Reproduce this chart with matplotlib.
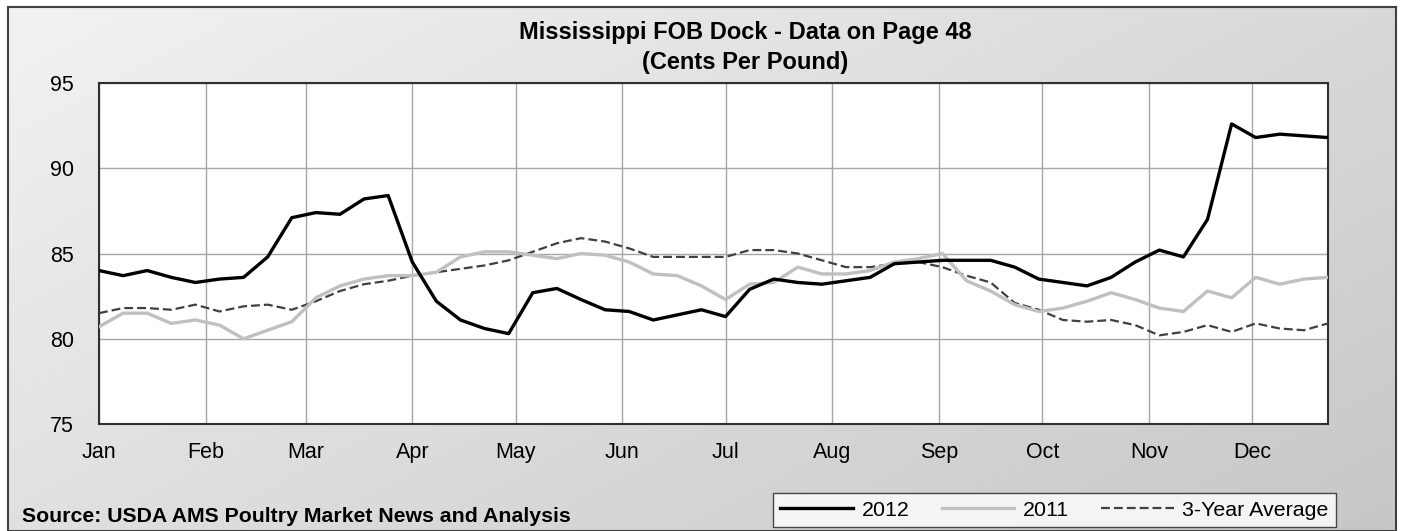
import numpy as np
import pandas as pd
import matplotlib
matplotlib.use('Agg')
import matplotlib.pyplot as plt
from matplotlib.patches import Rectangle

plt.rcParams['font.family'] = ['Liberation Sans', 'DejaVu Sans']

# -----------------------------------------------------
# Weekly prices, cents per pound

weeks = pd.date_range('2012-01-01', periods=52, freq='7D')

price2012 = [84.0, 83.7, 84.0, 83.6, 83.3, 83.5, 83.6, 84.8, 87.1, 87.4,
             87.3, 88.2, 88.4, 84.5, 82.2, 81.1, 80.6, 80.3, 82.7, 82.95,
             82.3, 81.7, 81.6, 81.1, 81.4, 81.7, 81.3, 82.9, 83.5, 83.3,
             83.2, 83.4, 83.6, 84.4, 84.5, 84.6, 84.6, 84.6, 84.2, 83.5,
             83.3, 83.1, 83.6, 84.5, 85.2, 84.8, 87.0, 92.6, 91.8, 92.0,
             91.9, 91.8]

price2011 = [80.7, 81.5, 81.5, 80.9, 81.1, 80.8, 80.0, 80.5, 81.0, 82.4,
             83.1, 83.5, 83.7, 83.7, 83.9, 84.8, 85.1, 85.1, 84.9, 84.7,
             85.0, 84.9, 84.5, 83.8, 83.7, 83.1, 82.3, 83.2, 83.3, 84.2,
             83.8, 83.8, 84.0, 84.5, 84.7, 85.0, 83.4, 82.8, 82.0, 81.6,
             81.8, 82.2, 82.7, 82.3, 81.8, 81.6, 82.8, 82.4, 83.6, 83.2,
             83.5, 83.6]

avg3yr = [81.5, 81.8, 81.8, 81.7, 82.0, 81.6, 81.9, 82.0, 81.7, 82.2,
          82.8, 83.2, 83.4, 83.7, 83.9, 84.1, 84.3, 84.6, 85.1, 85.6,
          85.9, 85.7, 85.3, 84.8, 84.8, 84.8, 84.8, 85.2, 85.2, 85.0,
          84.6, 84.2, 84.2, 84.4, 84.5, 84.2, 83.7, 83.3, 82.1, 81.7,
          81.1, 81.0, 81.1, 80.8, 80.2, 80.4, 80.8, 80.4, 80.9, 80.6,
          80.5, 80.9]

monthStarts = pd.date_range('2012-01-01', periods=12, freq='MS')
monthLabels = ['Jan', 'Feb', 'Mar', 'Apr', 'May', 'Jun',
               'Jul', 'Aug', 'Sep', 'Oct', 'Nov', 'Dec']
yTicks = [75, 80, 85, 90, 95]

W, H = 1404, 531
fig = plt.figure(figsize=(W / 100, H / 100), dpi=100)

# light gray gradient panel behind everything (lighter top-left, darker bottom-right)
bg = fig.add_axes([8 / W, 0, (1396 - 8) / W, (H - 7) / H], zorder=0)
gx, gy = np.meshgrid(np.linspace(0, 1, 300), np.linspace(0, 1, 120))
level = 0.95 - 0.10 * gx - 0.07 * gy
bg.imshow(np.dstack([level, level, level]), aspect='auto',
          extent=[0, 1, 1, 0], interpolation='bilinear')
bg.set_xlim(0, 1)
bg.set_ylim(1, 0)
bg.axis('off')
fig.patches.append(Rectangle((8 / W, 0), (1396 - 8) / W, (H - 7) / H,
                             transform=fig.transFigure, fill=False,
                             edgecolor='#404040', linewidth=1.5, zorder=1))

ax = fig.add_axes([99 / W, 1 - 424 / H, (1328 - 99) / W, (424 - 83) / H], zorder=2)
ax.set_facecolor('white')

ax.plot(weeks, avg3yr, color='#404040', linewidth=1.6, dashes=(4.0, 1.8),
        label='3-Year Average', zorder=3)
ax.plot(weeks, price2011, color='#c0c0c0', linewidth=2.4,
        solid_joinstyle='round', label='2011', zorder=4)
ax.plot(weeks, price2012, color='black', linewidth=2.4,
        solid_joinstyle='round', label='2012', zorder=5)

ax.set_xlim(weeks[0], weeks[-1])
ax.set_ylim(75, 95)
ax.set_yticks(yTicks)
ax.set_xticks(monthStarts)
ax.set_xticklabels(monthLabels)
ax.tick_params(axis='both', length=0, labelsize=15.5)
ax.tick_params(axis='x', pad=13)
ax.tick_params(axis='y', pad=18)
ax.grid(True, color='#a6a6a6', linewidth=1.0)
ax.set_axisbelow(True)
for s in ax.spines.values():
    s.set_color('#303030')
    s.set_linewidth(1.5)

fig.text(745 / W, 1 - 33 / H, 'Mississippi FOB Dock - Data on Page 48',
         ha='center', va='center', fontsize=17, fontweight='bold')
fig.text(745 / W, 1 - 63 / H, '(Cents Per Pound)',
         ha='center', va='center', fontsize=17, fontweight='bold')
fig.text(22 / W, 1 - 517 / H, 'Source: USDA AMS Poultry Market News and Analysis',
         ha='left', va='center', fontsize=15.3, fontweight='bold')

handles, labels = ax.get_legend_handles_labels()
order = [2, 1, 0]
leg = fig.legend([handles[i] for i in order], [labels[i] for i in order],
                 loc='center', bbox_to_anchor=((772 + 1337) / 2 / W, 1 - 510 / H),
                 ncol=3, fontsize=15.4, handlelength=3.4, handletextpad=0.4,
                 columnspacing=1.5, frameon=True, fancybox=False,
                 borderpad=0.35, borderaxespad=0)
leg.get_frame().set_edgecolor('#202020')
leg.get_frame().set_facecolor('white')
leg.get_frame().set_linewidth(1.0)
leg.set_zorder(6)

fig.savefig('out.png', dpi=100)
